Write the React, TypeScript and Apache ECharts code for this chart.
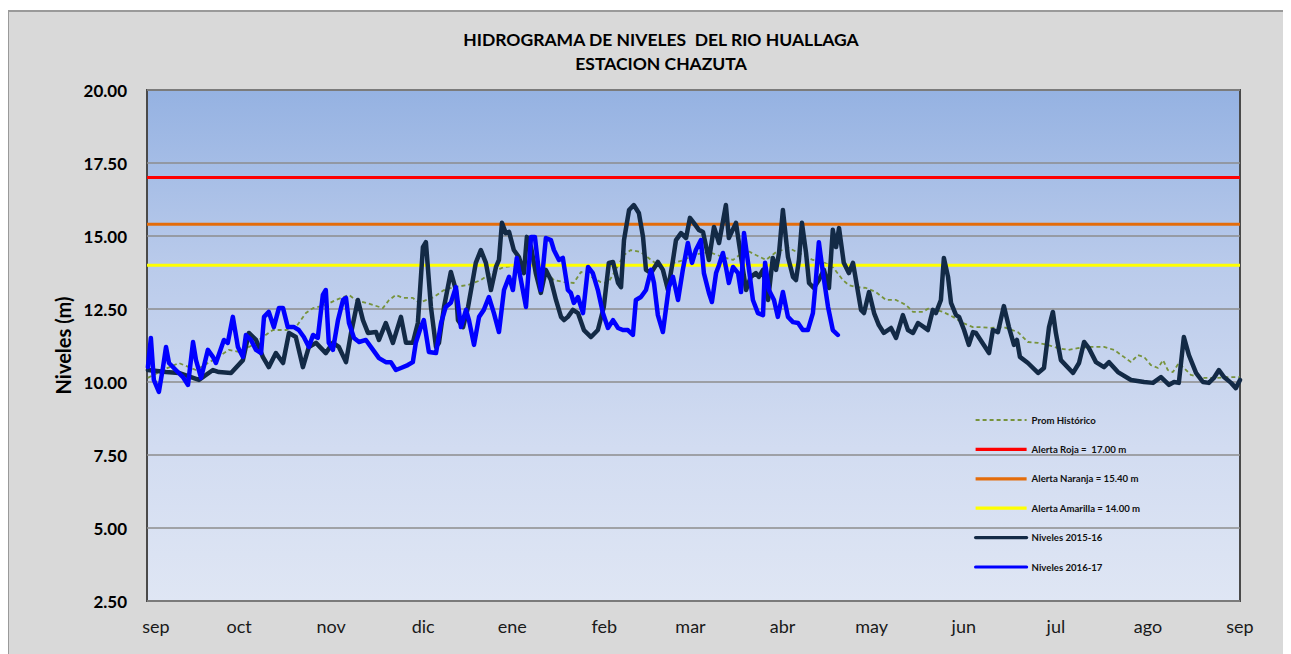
import React, { useEffect, useRef } from "react";
import * as echarts from "echarts";

// x positions are days counted from 1 September
const monthTicks = [0, 28, 59, 90, 120, 151, 180, 211, 241, 272, 303, 334, 365];
const monthLabels = ["sep", "oct", "nov", "dic", "ene", "feb", "mar", "abr", "may", "jun", "jul", "ago", "sep"];

const titleLines = ["HIDROGRAMA DE NIVELES  DEL RIO HUALLAGA", "ESTACION CHAZUTA"];
const yAxisName = "Niveles (m)";

const alertNames = ["Alerta Roja =  17.00 m", "Alerta Naranja = 15.40 m", "Alerta Amarilla = 14.00 m"];
const alertValues = [17.0, 15.4, 14.0];

const days2015 = [
  -2.7, 3.4, 7.7, 14.5, 19.2, 21.2, 25.3, 29.3, 31.3, 33.7, 36.0, 38.0, 40.4, 42.8, 44.8, 47.1, 49.5, 51.5, 53.9, 57.2,
  59.6, 61.6, 64.0, 65.7, 68.0, 69.7, 71.4, 74.1, 75.1, 77.4, 79.8, 82.5, 84.2, 86.5, 88.2, 89.9, 90.9, 92.6, 94.3, 95.3,
  97.0, 99.3, 101.0, 101.7, 103.4, 105.1, 106.1, 107.7, 109.4, 111.1, 112.8, 114.5, 115.5, 116.5, 117.8, 118.9, 120.5, 122.2, 123.9, 124.9,
  126.3, 127.9, 129.6, 131.3, 133.0, 134.7, 136.4, 137.4, 138.7, 140.4, 142.1, 144.1, 146.5, 148.8, 150.8, 152.5, 153.9, 155.6, 156.6, 157.6,
  159.3, 160.9, 162.6, 164.0, 165.0, 166.7, 169.0, 170.7, 172.4, 174.1, 175.1, 176.8, 178.5, 179.8, 181.1, 182.8, 184.2, 186.2, 187.9, 189.6,
  191.9, 192.9, 195.3, 196.3, 198.7, 200.3, 202.0, 203.0, 204.4, 206.1, 207.7, 208.8, 209.8, 211.1, 212.8, 214.5, 215.5, 216.5, 217.5, 218.9,
  219.9, 221.5, 223.2, 224.9, 226.6, 227.9, 229.0, 230.0, 231.6, 233.3, 234.7, 235.7, 237.4, 238.4, 240.1, 241.8, 243.4, 245.1, 247.5, 249.2,
  251.5, 253.2, 254.9, 256.6, 258.6, 259.9, 261.6, 262.6, 264.3, 265.3, 266.7, 267.7, 269.4, 270.4, 272.1, 273.7, 275.1, 276.1, 280.5, 281.8,
  283.5, 285.5, 287.2, 288.9, 289.9, 290.9, 293.6, 297.0, 299.0, 300.7, 302.0, 303.0, 304.7, 308.8, 310.8, 312.5, 314.1, 316.5, 319.2, 320.9,
  323.9, 328.3, 332.7, 335.7, 338.4, 341.1, 342.8, 344.4, 346.1, 347.8, 350.2, 352.5, 354.5, 356.2, 357.9, 359.6, 362.0, 363.6, 365.0,
];
const niveles2015 = [
  10.41, 10.34, 10.31, 10.07, 10.41, 10.34, 10.31, 10.75, 11.68, 11.44, 10.86, 10.51, 10.99, 10.65, 11.68, 11.54, 10.51, 11.2, 11.34, 10.99,
  11.34, 11.2, 10.68, 11.68, 12.81, 12.12, 11.68, 11.71, 11.44, 12.02, 11.34, 12.23, 11.34, 11.34, 12.02, 14.62, 14.79, 12.57, 11.2, 11.34,
  12.57, 13.77, 13.15, 12.12, 11.88, 12.57, 13.15, 14.08, 14.52, 14.08, 13.15, 13.94, 14.18, 15.45, 15.1, 15.14, 14.52, 14.28, 13.73, 14.97,
  14.62, 13.73, 13.05, 13.84, 13.49, 12.81, 12.23, 12.12, 12.23, 12.47, 12.36, 11.78, 11.54, 11.78, 12.57, 14.08, 14.11, 13.39, 13.25, 14.86,
  15.89, 16.06, 15.79, 14.97, 13.84, 13.73, 14.11, 13.84, 13.15, 14.18, 14.86, 15.1, 14.93, 15.62, 15.45, 15.21, 15.14, 14.18, 15.31, 14.76,
  16.06, 14.93, 15.45, 14.76, 13.15, 13.6, 13.73, 13.6, 13.84, 12.81, 14.25, 13.84, 14.42, 15.89, 14.28, 13.6, 13.49, 14.18, 15.45, 14.42,
  13.39, 13.22, 13.49, 13.84, 13.22, 15.21, 14.62, 15.27, 14.08, 13.73, 14.08, 13.49, 12.47, 12.36, 13.08, 12.36, 11.95, 11.68, 11.85, 11.51,
  12.29, 11.78, 11.68, 12.02, 11.88, 11.78, 12.47, 12.36, 12.81, 14.25, 13.6, 12.71, 12.29, 12.23, 11.78, 11.27, 11.71, 11.68, 10.99, 11.78,
  11.71, 12.6, 11.88, 11.27, 11.44, 10.86, 10.65, 10.31, 10.48, 11.88, 12.4, 11.68, 10.75, 10.31, 10.65, 11.37, 11.16, 10.68, 10.51, 10.68,
  10.34, 10.07, 10.0, 9.97, 10.17, 9.9, 10.0, 9.97, 11.54, 10.92, 10.31, 10.0, 9.97, 10.14, 10.41, 10.17, 9.97, 9.79, 10.07,
];

const days2016 = [
  -2.7, -1.7, -0.7, 1.0, 2.4, 3.4, 4.4, 6.7, 9.1, 10.8, 12.5, 13.5, 15.2, 17.5, 19.2, 20.2, 22.9, 24.2, 25.9, 27.6,
  29.3, 30.3, 32.0, 33.7, 35.4, 36.4, 38.0, 39.7, 41.4, 42.8, 44.4, 46.5, 48.1, 49.8, 51.5, 52.9, 54.5, 56.2, 57.2, 58.2,
  59.6, 61.3, 63.0, 64.0, 65.0, 66.7, 68.4, 70.7, 73.1, 75.1, 77.4, 79.1, 80.8, 82.5, 84.8, 86.5, 87.5, 89.2, 90.2, 91.9,
  94.3, 96.0, 97.6, 99.3, 101.0, 102.7, 104.4, 105.4, 107.1, 108.8, 110.4, 112.1, 113.8, 115.5, 117.2, 118.9, 120.2, 121.5, 122.9, 124.6,
  126.3, 127.6, 128.6, 129.6, 131.3, 133.0, 134.0, 135.7, 137.0, 138.7, 139.7, 140.7, 142.1, 143.8, 145.5, 147.1, 148.8, 150.5, 152.2, 153.9,
  155.6, 157.2, 158.9, 160.6, 161.6, 163.3, 165.0, 166.7, 167.7, 169.0, 170.7, 172.7, 174.1, 175.8, 177.4, 179.1, 180.5, 181.8, 183.5, 184.5,
  186.2, 187.2, 188.6, 189.6, 190.9, 191.9, 192.9, 194.3, 196.0, 197.0, 198.0, 199.7, 201.0, 202.7, 204.4, 205.1, 206.4, 208.1, 209.4, 211.1,
  212.8, 214.5, 216.2, 217.8, 219.5, 221.2, 222.2, 223.2, 224.6, 226.3, 227.9, 229.6,
];
const niveles2016 = [
  10.51, 11.51, 10.07, 9.66, 10.51, 11.2, 10.65, 10.41, 10.17, 9.9, 11.37, 10.75, 10.14, 11.1, 10.86, 10.65, 11.44, 11.34, 12.23, 11.2,
  10.86, 11.61, 11.44, 11.1, 10.99, 12.23, 12.4, 11.88, 12.53, 12.53, 11.88, 11.88, 11.78, 11.54, 11.2, 11.61, 11.51, 12.98, 13.15, 11.34,
  11.1, 12.12, 12.81, 12.88, 12.02, 11.51, 11.37, 11.44, 11.1, 10.82, 10.68, 10.68, 10.41, 10.48, 10.58, 10.68, 11.34, 11.88, 12.12, 11.03,
  10.99, 12.02, 12.57, 12.71, 13.25, 11.88, 12.47, 12.12, 11.27, 12.23, 12.47, 12.91, 12.36, 11.71, 13.15, 13.6, 13.15, 14.25, 13.49, 12.57,
  14.97, 14.97, 14.08, 13.15, 14.93, 14.86, 14.52, 14.18, 14.25, 13.15, 13.05, 12.71, 12.91, 12.36, 13.94, 13.73, 13.15, 12.36, 11.85, 12.12,
  11.85, 11.78, 11.78, 11.61, 12.81, 12.91, 13.15, 13.84, 13.39, 12.29, 11.71, 13.25, 13.6, 12.81, 13.84, 14.76, 14.08, 14.52, 14.86, 13.73,
  13.05, 12.74, 13.73, 14.01, 14.42, 13.94, 13.39, 13.94, 13.73, 13.08, 15.1, 13.84, 12.81, 12.36, 12.29, 14.08, 13.15, 12.81, 12.23, 13.08,
  12.23, 12.05, 12.02, 11.78, 11.78, 12.36, 13.49, 14.79, 13.73, 12.57, 11.78, 11.61,
];

const daysProm = [
  -2.7, 2.4, 7.7, 13.5, 19.2, 24.6, 27.9, 32.7, 36.0, 39.4, 43.8, 47.1, 50.5, 52.9, 57.2, 60.6, 65.0, 67.3, 70.7, 73.1,
  76.4, 78.5, 80.8, 83.2, 86.5, 88.6, 93.6, 97.0, 100.3, 105.1, 109.4, 112.8, 117.2, 122.9, 127.3, 130.6, 134.0, 137.4, 140.7, 143.1,
  146.5, 149.8, 152.2, 154.2, 157.6, 159.9, 163.3, 166.7, 170.0, 174.4, 177.8, 181.1, 186.2, 190.9, 194.3, 198.7, 202.0, 205.4, 208.8, 213.1,
  217.8, 221.2, 224.6, 227.9, 231.3, 233.3, 235.7, 239.1, 242.4, 245.8, 249.2, 252.5, 254.9, 258.2, 260.3, 265.0, 268.4, 271.7, 275.1, 277.8,
  281.1, 285.5, 290.2, 293.6, 297.0, 300.3, 303.7, 307.1, 310.4, 314.8, 319.2, 322.6, 325.9, 328.3, 330.6, 332.7, 335.0, 337.4, 339.1, 340.7,
  342.4, 344.4, 348.5, 352.9, 357.6, 362.0, 365.0,
];
const promHistorico = [
  10.14, 10.41, 10.65, 10.41, 10.75, 11.1, 11.03, 11.27, 11.54, 11.78, 11.78, 11.88, 12.36, 12.53, 12.64, 12.81, 12.98, 12.81, 12.71, 12.64,
  12.53, 12.81, 12.98, 12.88, 12.88, 12.71, 12.91, 13.15, 13.25, 13.32, 13.49, 13.73, 13.94, 14.01, 13.94, 13.84, 13.49, 13.42, 13.39, 13.77,
  13.6, 13.42, 13.39, 13.73, 14.35, 14.52, 14.45, 14.18, 13.94, 14.08, 14.18, 14.35, 14.45, 14.28, 14.18, 14.52, 14.35, 14.18, 14.45, 14.59,
  14.35, 14.18, 14.11, 13.94, 13.49, 13.32, 13.25, 13.22, 13.08, 12.81, 12.81, 12.64, 12.4, 12.4, 12.53, 12.4, 12.23, 12.02, 11.88, 11.88,
  11.85, 11.88, 11.71, 11.37, 11.34, 11.27, 11.16, 11.1, 11.16, 11.2, 11.2, 11.1, 10.86, 10.68, 10.92, 10.86, 10.58, 10.48, 10.75, 10.41,
  10.34, 10.65, 10.24, 10.14, 10.14, 10.17, 10.17,
];

const legendNames = ["Prom Histórico", ...alertNames, "Niveles 2015-16", "Niveles 2016-17"];

const pair = (xs: number[], ys: number[]) => xs.map((x, i) => [x, ys[i]]);

export default function App() {
  const ref = useRef<HTMLDivElement>(null);
  useEffect(() => {
    if (!ref.current) return;
    const chart = echarts.init(ref.current, null, { renderer: "svg" });
    const font = "Lato, 'Liberation Sans', sans-serif";
    const alertColors = ["#ff0000", "#e46c0a", "#ffff00"];
    const xMin = -3;
    const xMax = 365;
    chart.setOption({
      animation: false,
      textStyle: { fontFamily: font },
      graphic: [
        {
          type: "rect",
          z: -10,
          shape: { x: 0, y: 3, width: 1320, height: 700 },
          style: { fill: "#d9d9d9", stroke: "#9a9a9a", lineWidth: 2 },
        },
      ],
      title: {
        text: titleLines.join("\n"),
        left: 648,
        top: 14,
        textAlign: "center",
        textStyle: { fontFamily: font, fontSize: 17.5, fontWeight: "bold", color: "#000", lineHeight: 24 },
      },
      grid: {
        left: 139,
        top: 82,
        width: 1093,
        height: 511,
        show: true,
        backgroundColor: new echarts.graphic.LinearGradient(0, 0, 0, 1, [
          { offset: 0, color: "#95b2e2" },
          { offset: 0.35, color: "#bacbeb" },
          { offset: 0.7, color: "#d2dcf1" },
          { offset: 1, color: "#dfe6f4" },
        ]),
        borderColor: "#4a4a4a",
        borderWidth: 2,
      },
      legend: {
        orient: "vertical",
        left: 966,
        top: 407,
        padding: 0,
        itemWidth: 51,
        itemHeight: 10,
        itemGap: 19.4,
        itemStyle: { opacity: 0 },
        data: legendNames.map((n, i) => ({ name: n, lineStyle: { width: i === 0 ? 2 : 3.2 } })),
        textStyle: { fontFamily: font, fontSize: 9.6, fontWeight: "bold", color: "#111" },
      },
      xAxis: {
        type: "value",
        min: xMin,
        max: xMax,
        splitLine: { show: false },
        axisTick: { show: false },
        axisLine: { show: false },
        axisLabel: {
          customValues: monthTicks,
          formatter: (v: number) => monthLabels[monthTicks.indexOf(v)] ?? "",
          fontFamily: font,
          fontSize: 18,
          color: "#1a1a1a",
          margin: 16,
        },
      },
      yAxis: {
        type: "value",
        min: 2.5,
        max: 20,
        interval: 2.5,
        name: yAxisName,
        nameLocation: "middle",
        nameGap: 74,
        nameTextStyle: { fontFamily: font, fontSize: 20, fontWeight: "bold", color: "#000" },
        axisLine: { show: false },
        axisTick: { show: false },
        splitLine: { lineStyle: { color: "#8c8c8c", width: 1.5 } },
        axisLabel: {
          formatter: (v: number) => v.toFixed(2),
          fontFamily: font,
          fontSize: 17,
          fontWeight: "bold",
          color: "#000",
          margin: 20,
        },
      },
      series: [
        {
          name: "Prom Histórico",
          type: "line",
          symbol: "none",
          z: 2,
          lineStyle: { color: "#77933c", width: 1.8, type: [4, 3] },
          itemStyle: { color: "#77933c" },
          data: pair(daysProm, promHistorico),
        },
        ...alertNames.map((n, i) => ({
          name: n,
          type: "line",
          symbol: "none",
          z: 3,
          lineStyle: { color: alertColors[i], width: 3 },
          itemStyle: { color: alertColors[i] },
          data: [
            [xMin, alertValues[i]],
            [xMax, alertValues[i]],
          ],
        })),
        {
          name: "Niveles 2015-16",
          type: "line",
          symbol: "none",
          z: 4,
          lineStyle: { color: "#132a46", width: 4.5, join: "round", cap: "round" },
          itemStyle: { color: "#132a46" },
          data: pair(days2015, niveles2015),
        },
        {
          name: "Niveles 2016-17",
          type: "line",
          symbol: "none",
          z: 5,
          lineStyle: { color: "#0000ff", width: 4.5, join: "round", cap: "round" },
          itemStyle: { color: "#0000ff" },
          data: pair(days2016, niveles2016),
        },
      ],
    });
    return () => chart.dispose();
  }, []);
  return <div ref={ref} style={{ width: 1283, height: 646 }} />;
}
